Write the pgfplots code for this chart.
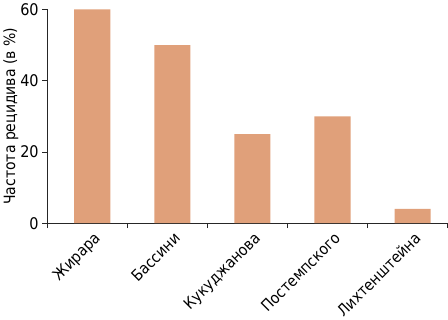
\documentclass[border=0pt]{standalone}
\usepackage{pgfplots}
\pgfplotsset{compat=1.18}
\usepackage{fontspec}
\setmainfont{DejaVu Sans Condensed}
\definecolor{barfill}{RGB}{224,160,122}

\begin{document}
\begin{tikzpicture}
  \begin{axis}[
    scale only axis, width=399pt, height=213pt,
    xmin=-0.5, xmax=4.5, ymin=0, ymax=60,
    axis x line=bottom, axis y line=left,
    axis line style={-, black!85, line width=0.8pt},
    every tick/.style={black!85, line width=0.8pt},
    xtick={0,1,2,3,4},
    xticklabels={Жирара,Бассини,Кукуджанова,Постемпского,Лихтенштейна},
    major x tick style={draw=none},
    minor xtick={-0.5,0.5,1.5,2.5,3.5,4.5},
    minor tick length=5pt,
    major tick length=5pt,
    tick align=outside,
    ytick={0,20,40,60},
    x tick label style={rotate=45, anchor=north east, font=\fontsize{15.5}{15.5}\selectfont, inner sep=1pt, yshift=-5pt, xshift=3pt},
    y tick label style={font=\fontsize{16}{16}\selectfont},
    /pgf/number format/assume math mode=true,
    ylabel={Частота рецидива (в \%)},
    ylabel style={font=\fontsize{15.5}{15.5}\selectfont},
    ylabel shift=-5pt,
    clip=false,
  ]
    \addplot[ybar, bar width=36pt, bar shift=5pt, fill=barfill, draw=none]
      coordinates {(0,60) (1,50) (2,25) (3,30) (4,4)};
  \end{axis}
\end{tikzpicture}
\end{document}
